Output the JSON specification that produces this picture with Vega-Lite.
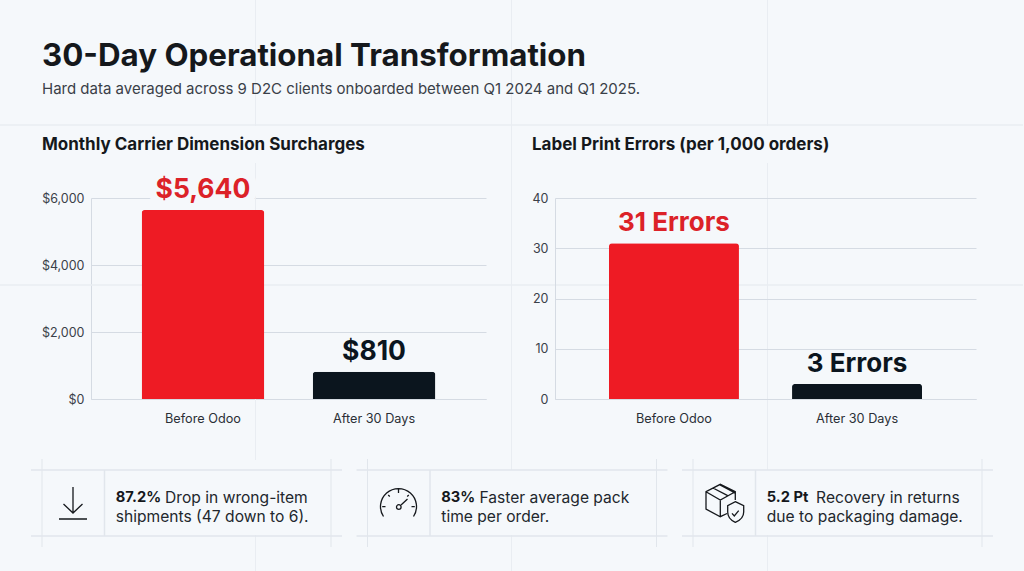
{
"$schema":"https://vega.github.io/schema/vega-lite/v6.json",
"autosize":{"type":"none"},
"padding":{"left":91,"top":198,"right":933,"bottom":373},
"background":"#f5f8fb",
"bounds":"flush",
"spacing":272,
"title":{"text":"30-Day Operational Transformation","subtitle":"Hard data averaged across 9 D2C clients onboarded between Q1 2024 and Q1 2025.","anchor":"start","frame":"group","dx":-49,"dy":197,"offset":100,"font":"Inter","fontSize":31.3,"fontWeight":700,"color":"#15181c","subtitleFont":"Inter","subtitleFontSize":15,"subtitleColor":"#3a4048","subtitlePadding":10},
"config":{"view":{"stroke":null},"font":"Inter"},
"vconcat":[
{"hconcat":[
{"width":395,"height":201,
 "title":{"text":"Monthly Carrier Dimension Surcharges","anchor":"start","frame":"group","dx":-49,"dy":193,"offset":39,"font":"Inter","fontSize":17,"fontWeight":700,"color":"#15181c"},
 "data":{"values":[{"phase":"Before Odoo","value":5640,"label":"$5,640"},{"phase":"After 30 Days","value":810,"label":"$810"}]},
 "encoding":{
  "x":{"field":"phase","type":"nominal","sort":null,"scale":{"domain":["Before Odoo","After 30 Days"],"paddingInner":0.283,"paddingOuter":0.296},"axis":{"title":null,"labelAngle":0,"ticks":false,"labelPadding":13,"labelFont":"Inter","labelFontSize":12.7,"labelColor":"#2a2f36","domainColor":"#d5dbe3","grid":false}},
  "y":{"field":"value","type":"quantitative","scale":{"domain":[0,6000],"nice":false},"axis":{"title":null,"values":[0,2000,4000,6000],"format":"$,.0f","ticks":false,"labelPadding":7,"labelFont":"Inter","labelFontSize":12.5,"labelColor":"#3a4048","domain":true,"domainColor":"#d5dbe3","grid":true,"gridColor":"#d5dbe3","gridWidth":1.2}}
 },
 "layer":[
  {"mark":{"type":"tick","orient":"horizontal","size":1024,"thickness":1,"color":"#e9edf2","opacity":1,"xOffset":222.5,"yOffset":-173.5},"encoding":{"x":{"value":197.5},"y":{"value":100.5}}},
  {"mark":{"type":"tick","orient":"horizontal","size":1024,"thickness":1,"color":"#e9edf2","opacity":1,"xOffset":222.5,"yOffset":-13.5},"encoding":{"x":{"value":197.5},"y":{"value":100.5}}},
  {"mark":{"type":"tick","orient":"vertical","size":126,"thickness":1,"color":"#e9edf2","opacity":1,"xOffset":52.5,"yOffset":-235.5},"encoding":{"x":{"datum":"Before Odoo"},"y":{"value":100.5}}},
  {"mark":{"type":"tick","orient":"vertical","size":297,"thickness":1,"color":"#e9edf2","opacity":1,"xOffset":52.5,"yOffset":13},"encoding":{"x":{"datum":"Before Odoo"},"y":{"value":100.5}}},
  {"mark":{"type":"tick","orient":"vertical","size":36,"thickness":1,"color":"#e9edf2","opacity":1,"xOffset":52.5,"yOffset":254.5},"encoding":{"x":{"datum":"Before Odoo"},"y":{"value":100.5}}},
  {"mark":{"type":"tick","orient":"vertical","size":470,"thickness":1,"color":"#e9edf2","opacity":1,"xOffset":308.5,"yOffset":-63.5},"encoding":{"x":{"datum":"Before Odoo"},"y":{"value":100.5}}},
  {"mark":{"type":"tick","orient":"vertical","size":36,"thickness":1,"color":"#e9edf2","opacity":1,"xOffset":308.5,"yOffset":254.5},"encoding":{"x":{"datum":"Before Odoo"},"y":{"value":100.5}}},
  {"mark":{"type":"tick","orient":"vertical","size":126,"thickness":1,"color":"#e9edf2","opacity":1,"xOffset":564.5,"yOffset":-235.5},"encoding":{"x":{"datum":"Before Odoo"},"y":{"value":100.5}}},
  {"mark":{"type":"tick","orient":"vertical","size":307,"thickness":1,"color":"#e9edf2","opacity":1,"xOffset":564.5,"yOffset":18},"encoding":{"x":{"datum":"Before Odoo"},"y":{"value":100.5}}},
  {"mark":{"type":"tick","orient":"vertical","size":36,"thickness":1,"color":"#e9edf2","opacity":1,"xOffset":564.5,"yOffset":254.5},"encoding":{"x":{"datum":"Before Odoo"},"y":{"value":100.5}}},
  {"transform":[{"filter":"datum.phase === 'Before Odoo'"}],"mark":{"type":"text","baseline":"bottom","dy":-6,"font":"Inter","fontSize":26.5,"fontWeight":700,"stroke":"#f5f8fb","strokeWidth":16,"fill":"#f5f8fb"},"encoding":{"text":{"field":"label"}}},
  {"mark":{"type":"bar","cornerRadiusTopLeft":3,"cornerRadiusTopRight":3},"encoding":{"color":{"field":"phase","type":"nominal","scale":{"domain":["Before Odoo","After 30 Days"],"range":["#ee1b24","#0b151e"]},"legend":null}}},
  {"mark":{"type":"text","baseline":"bottom","dy":-6,"font":"Inter","fontSize":26.5,"fontWeight":700},"encoding":{"text":{"field":"label"},"color":{"field":"phase","type":"nominal","scale":{"domain":["Before Odoo","After 30 Days"],"range":["#dc2228","#0b151e"]},"legend":null}}}
 ],
 "resolve":{"scale":{"color":"independent"}}
},
{"width":421,"height":201,
 "title":{"text":"Label Print Errors (per 1,000 orders)","anchor":"start","frame":"group","dx":-23,"offset":38,"font":"Inter","fontSize":17,"fontWeight":700,"color":"#15181c"},
 "data":{"values":[{"phase":"Before Odoo","value":31,"label":"31 Errors"},{"phase":"After 30 Days","value":3,"label":"3 Errors"}]},
 "encoding":{
  "x":{"field":"phase","type":"nominal","sort":null,"scale":{"domain":["Before Odoo","After 30 Days"],"paddingInner":0.29,"paddingOuter":0.295},"axis":{"title":null,"labelAngle":0,"ticks":false,"labelPadding":13,"labelFont":"Inter","labelFontSize":12.7,"labelColor":"#2a2f36","domainColor":"#d5dbe3","grid":false}},
  "y":{"field":"value","type":"quantitative","scale":{"domain":[0,40],"nice":false},"axis":{"title":null,"values":[0,10,20,30,40],"ticks":false,"labelPadding":7,"labelFont":"Inter","labelFontSize":12.5,"labelColor":"#3a4048","domain":true,"domainColor":"#d5dbe3","grid":true,"gridColor":"#d5dbe3","gridWidth":1.2}}
 },
 "layer":[
  {"mark":{"type":"bar","cornerRadiusTopLeft":3,"cornerRadiusTopRight":3},"encoding":{"color":{"field":"phase","type":"nominal","scale":{"domain":["Before Odoo","After 30 Days"],"range":["#ee1b24","#0b151e"]},"legend":null}}},
  {"mark":{"type":"text","baseline":"bottom","dy":-7,"font":"Inter","fontSize":26,"fontWeight":700},"encoding":{"text":{"field":"label"},"color":{"field":"phase","type":"nominal","scale":{"domain":["Before Odoo","After 30 Days"],"range":["#dc2228","#0b151e"]},"legend":null}}}
 ],
 "resolve":{"scale":{"color":"independent"}}
}
],"spacing":69,"bounds":"flush"},
{"width":842,"height":66,
 "data":{"values":[
  {"card":"Wrong-item shipments","stat":"87.2%","line1":"Drop in wrong-item","line2":"shipments (47 down to 6)."},
  {"card":"Pack time","stat":"83%","line1":"Faster average pack","line2":"time per order."},
  {"card":"Returns","stat":"5.2 Pt","line1":"Recovery in returns","line2":"due to packaging damage."}
 ]},
 "encoding":{
  "x":{"field":"card","type":"nominal","sort":null,"scale":{"type":"point","domain":["Wrong-item shipments","Pack time","Returns"],"padding":0.2934},"axis":null}
 },
 "layer":[
  {"mark":{"type":"tick","orient":"horizontal","size":311,"thickness":1.5,"color":"#e1e6ec","opacity":1},"encoding":{"y":{"datum":"top","scale":{"type":"point","domain":["top","line1","line2","bottom"],"padding":0},"axis":null}}},
  {"mark":{"type":"tick","orient":"horizontal","size":311,"thickness":1.5,"color":"#e1e6ec","opacity":1},"encoding":{"y":{"datum":"bottom"}}},
  {"mark":{"type":"tick","orient":"vertical","size":88,"thickness":1,"color":"#e1e6ec","opacity":1,"xOffset":-144.5}},
  {"mark":{"type":"tick","orient":"vertical","size":88,"thickness":1,"color":"#e1e6ec","opacity":1,"xOffset":144.5}},
  {"mark":{"type":"tick","orient":"vertical","size":66,"thickness":1.5,"color":"#e1e6ec","opacity":1,"xOffset":-82}},
  {"transform":[{"filter":"datum.card === 'Wrong-item shipments'"}],"mark":{"type":"point","shape":"M0,-16L0,10M-9.5,1L0,10L9.5,1M-14,16L14,16","size":4,"filled":false,"stroke":"#15181c","strokeWidth":1.3,"opacity":1,"xOffset":-113.5}},
  {"transform":[{"filter":"datum.card === 'Pack time'"}],"mark":{"type":"point","shape":"M-15,13.5A18,18 0 1 1 15,13.5M0,-14L0,-10M-16.3,3.7L-13,3.7M16.3,3.7L13,3.7M-10.3,-8L-8.7,-6.5M10.3,-8L8.7,-6.5M2.5,2L9,-4M2.6,4A2.3,2.3 0 1 1 -2,4A2.3,2.3 0 1 1 2.6,4","size":4,"filled":false,"stroke":"#15181c","strokeWidth":1.3,"opacity":1,"xOffset":-113.5}},
  {"transform":[{"filter":"datum.card === 'Returns'"}],"mark":{"type":"point","shape":"M11.3,-3L11.3,-11.3L-3.7,-18.7L-18,-11.3L-18,6L-3.7,13.7L3,10.5M-18,-11.3L-3.7,-3L11.3,-11.3M-3.7,-3L-3.7,13.7M-11,-15L3.7,-7.3M-4,-18L11,-10M11.3,-1.3L19.7,2.7L19.7,9Q19.7,16 11.3,19.3Q3.7,16 3.7,9L3.7,2.7ZM8,10.3L10.3,13L14.7,7.7","size":4,"filled":false,"stroke":"#15181c","strokeWidth":1.3,"opacity":1,"xOffset":-113.5}},
  {"mark":{"type":"text","align":"left","baseline":"middle","font":"Inter","fontSize":14.7,"fontWeight":700,"color":"#15181c","dx":-70.7,"dy":6},"encoding":{"y":{"datum":"line1"},"text":{"field":"stat"}}},
  {"transform":[{"filter":"datum.card !== 'Pack time'"}],"mark":{"type":"text","align":"left","baseline":"middle","font":"Inter","fontSize":15.6,"color":"#22272d","dx":-21.4,"dy":6},"encoding":{"y":{"datum":"line1"},"text":{"field":"line1"}}},
  {"transform":[{"filter":"datum.card === 'Pack time'"}],"mark":{"type":"text","align":"left","baseline":"middle","font":"Inter","fontSize":15.6,"color":"#22272d","dx":-32.5,"dy":6},"encoding":{"y":{"datum":"line1"},"text":{"field":"line1"}}},
  {"mark":{"type":"text","align":"left","baseline":"middle","font":"Inter","fontSize":15.6,"color":"#22272d","dx":-70.7,"dy":3},"encoding":{"y":{"datum":"line2"},"text":{"field":"line2"}}}
 ]
}
]
}
